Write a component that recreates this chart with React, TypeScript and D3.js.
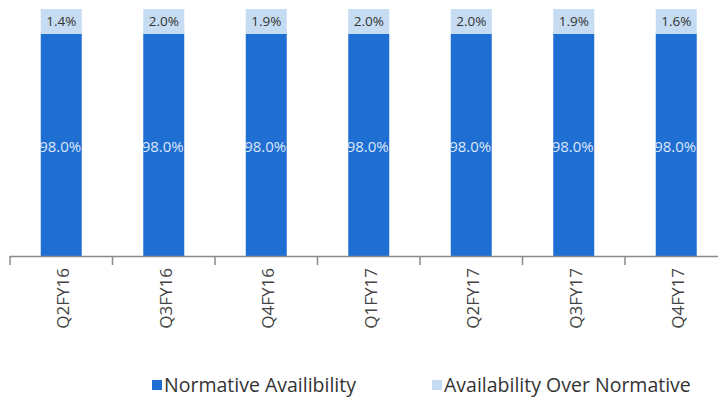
import React from "react";
import * as d3 from "d3";

const categories = ["Q2FY16", "Q3FY16", "Q4FY16", "Q1FY17", "Q2FY17", "Q3FY17", "Q4FY17"];
const normative = [98.0, 98.0, 98.0, 98.0, 98.0, 98.0, 98.0];
const overNormative = [1.4, 2.0, 1.9, 2.0, 2.0, 1.9, 1.6];
const seriesNames = ["Normative Availibility", "Availability Over Normative"];

const W = 718;
const H = 403;
const DARK = "#1f6fd3";
const LIGHT = "#c6dcf2";
const FONT = "'Open Sans', sans-serif";

export default function App() {
  const x = d3
    .scaleBand<string>()
    .domain(categories)
    .range([10, 727.5])
    .paddingInner(0.6)
    .paddingOuter(0.3);
  const y = d3.scaleLinear().domain([0, 100]).range([256, 256 - 222 / 0.98]);
  const step = x.step();
  const ticks = d3.range(categories.length + 1).map((i) => 10 + i * step);
  const bw = x.bandwidth();

  return (
    <svg
      width={W}
      height={H}
      style={{ position: "absolute", left: 0, top: 0, background: "#fff" }}
      fontFamily={FONT}
    >
      <defs>
        {categories.map((c) => (
          <clipPath id={`clip-${c}`} key={c}>
            <rect x={x(c)!} y={0} width={bw} height={256} />
          </clipPath>
        ))}
      </defs>
      {categories.map((c, i) => {
        const x0 = x(c)!;
        const yBase = y(0);
        const yN = y(normative[i]);
        const yT = y(normative[i] + overNormative[i]);
        return (
          <g key={c}>
            <rect x={x0} y={yT} width={bw} height={yN - yT} fill={LIGHT} />
            <rect x={x0} y={yN} width={bw} height={yBase - yN} fill={DARK} />
            <rect x={x0} y={yN - 25} width={bw} height={25} fill={LIGHT} />
            <text
              x={x0 + bw / 2}
              y={yN - 8}
              textAnchor="middle"
              fontSize={13.5}
              fill="#333"
            >
              {overNormative[i].toFixed(1) + "%"}
            </text>
            <g clipPath={`url(#clip-${c})`}>
              <text
                x={x0 + bw / 2 - 1}
                y={(yN + yBase) / 2 + 7}
                textAnchor="middle"
                fontSize={15}
                fill="#ffffff"
                fillOpacity={0.85}
              >
                {normative[i].toFixed(1) + "%"}
              </text>
            </g>
            <text
              transform={`translate(${x0 + bw / 2 + 8},${268}) rotate(-90)`}
              textAnchor="end"
              fontSize={17}
              fill="#444"
            >
              {c}
            </text>
          </g>
        );
      })}
      <line x1={10} x2={W} y1={256.5} y2={256.5} stroke="#8a8a8a" strokeWidth={1.5} />
      {ticks.map((t, i) => (
        <line key={i} x1={t} x2={t} y1={256} y2={265} stroke="#8a8a8a" strokeWidth={1.5} />
      ))}
      <g>
        <rect x={152} y={380} width={10} height={10} fill={DARK} />
        <text x={164} y={392} fontSize={19.5} fill="#333">
          {seriesNames[0]}
        </text>
        <rect x={432} y={380} width={10} height={10} fill={LIGHT} />
        <text x={444} y={392} fontSize={19.5} fill="#333">
          {seriesNames[1]}
        </text>
      </g>
    </svg>
  );
}
